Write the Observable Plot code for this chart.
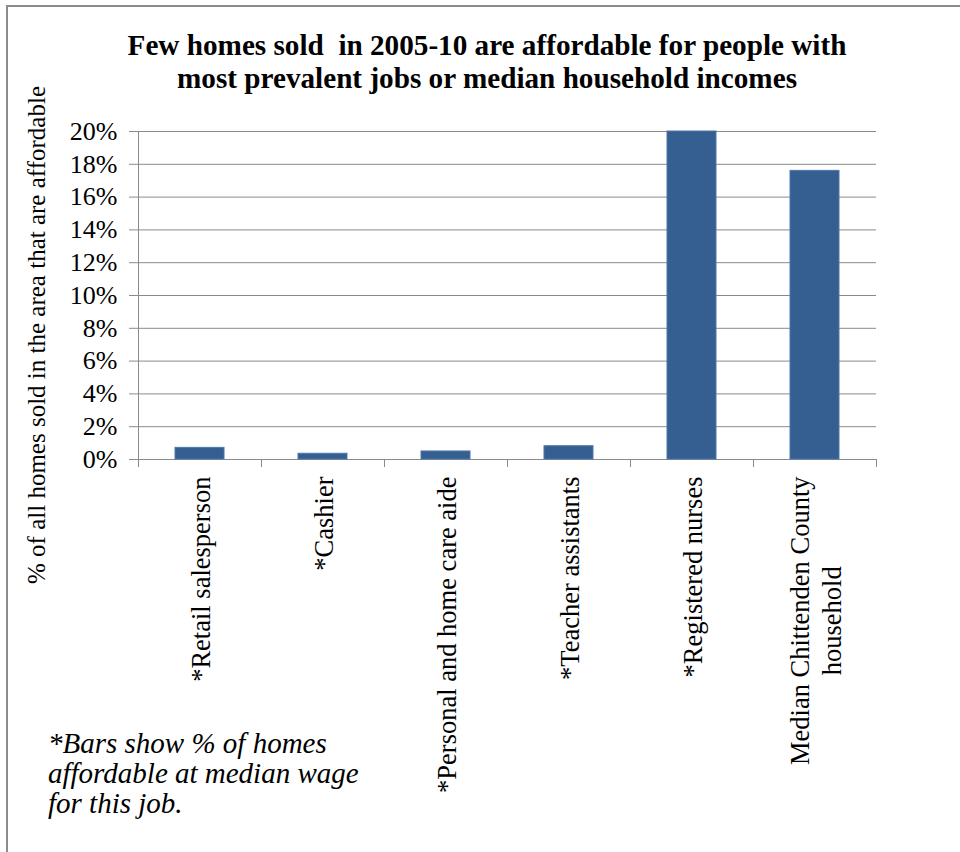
<!DOCTYPE html>
<html><head><meta charset="utf-8">
<script src="https://cdn.jsdelivr.net/npm/d3@7"></script>
<script src="https://cdn.jsdelivr.net/npm/@observablehq/plot@0.6"></script>
<style>
body{margin:0;background:#fff;}
#wrap{position:relative;width:960px;height:852px;overflow:hidden;font-family:"Liberation Serif","Times New Roman",Times,"DejaVu Serif",serif;color:#000;background:#fff;}
#border{position:absolute;left:6px;top:5px;width:960px;height:900px;border-top:2px solid #8c8c8c;border-left:2px solid #8c8c8c;}
#title{position:relative;height:110px;box-sizing:border-box;padding-top:29px;padding-left:14px;text-align:center;font-weight:bold;font-size:29.2px;line-height:33px;white-space:pre;}
#chart{position:relative;}
#ylabel{position:absolute;left:37px;top:335px;transform:translate(-50%,-50%) rotate(-90deg);white-space:nowrap;font-size:25px;}
#note{position:absolute;left:48px;top:728px;font-style:italic;font-size:29px;line-height:30px;}
</style></head>
<body><div id="wrap"><div id="border"></div><div id="title">Few homes sold  in 2005-10 are affordable for people with
most prevalent jobs or median household incomes</div><div id="chart"></div><div id="ylabel">% of all homes sold in the area that are affordable</div><div id="note">*Bars show % of homes<br>affordable at median wage<br>for this job.</div></div>
<script>
const categories = ["*Retail salesperson", "*Cashier", "*Personal and home care aide", "*Teacher assistants", "*Registered nurses", "Median Chittenden County\nhousehold"];
const values = [0.71, 0.35, 0.49, 0.81, 20.0, 17.6];
const yTicks = [0, 2, 4, 6, 8, 10, 12, 14, 16, 18, 20];

const data = categories.map((c, i) => ({cat: c, value: values[i]}));

const FONT = '"Liberation Serif", "Times New Roman", Times, "DejaVu Serif", serif';
const W = 960, H = 742;
const mL = 138, mR = 84, mT = 21, mB = 393;
const step = (W - mL - mR) / categories.length;
const gray = "#8a8a8a";
const labelSize = 26.5;

const ctx = document.createElement("canvas").getContext("2d");
ctx.font = `${labelSize}px ${FONT}`;
const longest = c => Math.max(...c.split("\n").map(s => ctx.measureText(s).width));
const labelData = categories.map(c => ({cat: c, off: 17 + longest(c) / 2}));

const chart = Plot.plot({
  width: W, height: H,
  marginTop: mT, marginBottom: mB, marginLeft: mL, marginRight: mR,
  style: {fontFamily: FONT, fontSize: "26px", color: "#000", background: "transparent", overflow: "visible"},
  x: {domain: categories, paddingInner: 0.6, paddingOuter: 0.3, label: null},
  y: {domain: [0, 20], label: null},
  marks: [
    Plot.gridY(yTicks, {stroke: gray, strokeOpacity: 1, strokeWidth: 1}),
    Plot.ruleX([categories[0]], {dx: -step / 2, stroke: gray, strokeWidth: 1}),
    Plot.axisX({ticks: categories, text: null, tickSize: 8, dx: -step / 2, stroke: gray, strokeOpacity: 1}),
    Plot.axisX({ticks: [categories[categories.length - 1]], text: null, tickSize: 8, dx: step / 2, stroke: gray, strokeOpacity: 1}),
    Plot.axisY({ticks: yTicks, tickFormat: d => d + "%", tickSize: 9, tickPadding: 12, stroke: gray, strokeOpacity: 1, fontSize: 26, fill: "#000", label: null}),
    Plot.barY(data, {x: "cat", y: "value", fill: "#365f91", stroke: "#4d78ab", strokeWidth: 1}),
    Plot.text(labelData, {x: "cat", frameAnchor: "bottom", text: "cat", rotate: -90, textAnchor: "middle", lineAnchor: "middle", lineHeight: 1.18, fontSize: labelSize, fill: "#000"})
  ]
});
document.getElementById("chart").appendChild(chart);
const texts = chart.querySelectorAll("g[aria-label=text] text");
texts.forEach((t, i) => {
  const tr = t.getAttribute("transform") || "";
  t.setAttribute("transform", `translate(0,${labelData[i].off}) ` + tr);
});
</script>
</body></html>
